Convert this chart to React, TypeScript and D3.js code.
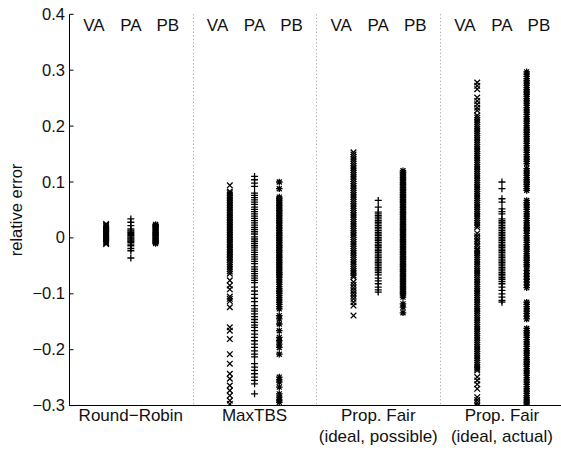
import React from "react";
import * as d3 from "d3";

// values in thousandths (relative error * 1000)
const groups = ["Round\u2212Robin", "MaxTBS", "Prop. Fair|(ideal, possible)", "Prop. Fair|(ideal, actual)"];
const seriesNames = ["VA", "PA", "PB"];
const yTicks = [-0.3, -0.2, -0.1, 0, 0.1, 0.2, 0.3, 0.4];

const VA1 = [25,23,21,19,17,15,13,11,9,7,5,3,1,-1,-3,-5,-7,-9,-11];
const PA1 = [34,28,22,16,14,12,10,8,6,4,2,0,-2,-4,-6,-8,-11,-14,-19,-23,-36];
const PB1 = [24,22,20,18,16,14,12,10,8,6,4,2,0,-2,-4,-6,-8,-10];

const VA2 = [94,83,80,77,74,71,68,65,62,59,56,53,50,47,44,41,38,35,32,29,26,23,20,17,14,11,8,5,2,-1,-4,-7,-10,-13,-16,-19,-22,-25,-28,-31,-34,-37,-40,-44,-48,-52,-56,-60,-64,-76,-85,-92,-105,-109,-113,-124,-160,-166,-181,-208,-225,-243,-252,-264,-273,-282,-291,-297];
const PA2 = [110,104,98,92,80,76,72,68,64,60,55,51,47,43,39,35,31,27,23,19,15,11,7,2,-2,-6,-10,-14,-18,-22,-26,-30,-34,-38,-42,-46,-52,-56,-60,-64,-68,-72,-76,-80,-88,-95,-101,-108,-114,-121,-127,-131,-136,-141,-146,-151,-156,-160,-166,-172,-178,-184,-190,-196,-202,-208,-213,-225,-231,-237,-243,-249,-255,-261,-279];
const PB2 = [100,88,73,70,67,64,61,58,55,52,49,46,43,40,37,34,31,28,25,22,19,16,13,10,7,4,1,-2,-5,-8,-11,-14,-17,-20,-23,-26,-29,-32,-35,-38,-41,-44,-47,-50,-53,-56,-59,-62,-65,-68,-71,-75,-79,-83,-87,-91,-95,-99,-103,-107,-111,-115,-119,-123,-127,-139,-145,-154,-166,-178,-184,-190,-196,-208,-249,-254,-258,-267,-279,-285,-290,-294];

const VA3 = [153,149,145,141,137,133,129,125,121,117,113,109,105,101,97,93,89,85,81,77,73,69,65,61,57,53,49,45,41,37,33,29,25,21,17,13,9,5,1,-3,-7,-11,-15,-19,-23,-27,-31,-35,-39,-43,-47,-51,-55,-59,-63,-67,-70,-79,-84,-89,-94,-99,-104,-109,-115,-121,-139];
const PA3 = [67,55,46,43,40,37,34,31,28,25,22,19,16,13,10,7,4,1,-2,-5,-8,-11,-14,-17,-20,-23,-26,-29,-32,-35,-38,-41,-44,-47,-50,-53,-56,-59,-62,-66,-72,-77,-82,-88,-93,-97];
const PB3 = [120,117,114,111,108,105,102,99,96,93,90,87,84,81,78,75,72,69,66,63,60,57,54,51,48,45,42,39,36,33,30,27,24,21,18,15,12,9,6,3,0,-3,-6,-9,-12,-15,-18,-21,-24,-27,-30,-33,-36,-39,-42,-45,-48,-51,-54,-57,-60,-63,-66,-69,-72,-75,-78,-81,-84,-87,-90,-93,-96,-99,-102,-106,-118,-124,-134];

const VA4 = [278,272,266,251,245,239,233,228,219,215,211,207,203,199,195,191,187,183,179,175,171,167,163,159,155,151,147,143,139,135,131,127,123,119,115,111,107,103,99,95,91,87,83,79,75,71,67,63,59,55,51,47,43,39,35,31,27,23,19,8,3,-2,-6,-11,-15,-20,-23,-27,-31,-35,-39,-43,-47,-51,-55,-59,-63,-67,-71,-75,-79,-83,-87,-91,-95,-99,-103,-107,-111,-115,-119,-123,-127,-131,-135,-139,-143,-147,-151,-155,-159,-163,-167,-171,-175,-179,-183,-187,-191,-195,-199,-203,-207,-211,-215,-219,-223,-227,-231,-234,-237,-249,-255,-262,-270,-285,-290,-295,-300];
const PA4 = [100,88,70,64,52,47,43,34,31,28,25,22,19,16,13,10,7,4,1,-2,-5,-8,-11,-14,-17,-20,-23,-26,-29,-32,-35,-38,-41,-44,-47,-50,-53,-56,-59,-62,-65,-68,-71,-74,-78,-82,-88,-94,-100,-106,-112,-115];
const PB4 = [297,293,289,285,281,277,273,269,265,261,257,253,249,245,241,237,233,229,225,221,217,213,209,205,201,197,193,189,185,181,177,173,169,165,161,157,153,149,145,141,137,133,124,120,116,112,108,104,100,96,92,88,85,67,63,59,55,51,47,43,39,35,31,27,23,19,16,13,8,4,0,-4,-8,-12,-16,-20,-24,-28,-32,-36,-40,-44,-48,-52,-58,-64,-69,-74,-79,-84,-89,-115,-119,-123,-127,-131,-135,-140,-145,-162,-166,-170,-174,-178,-182,-186,-190,-194,-198,-202,-206,-210,-214,-218,-222,-226,-230,-234,-238,-242,-246,-250,-254,-258,-262,-266,-270,-274,-278,-282,-286,-290,-294,-297];

const columns = [
  [VA1, PA1, PB1],
  [VA2, PA2, PB2],
  [VA3, PA3, PB3],
  [VA4, PA4, PB4],
];

const W = 561, H = 455;
const x = d3.scaleLinear().domain([-0.5, 19.5]).range([69, 563.8]);
const y = d3.scaleLinear().domain([-0.3, 0.4]).range([405.6, 14.3]);

const markerPaths = [
  "M-2.8,-2.8L2.8,2.8M-2.8,2.8L2.8,-2.8",
  "M-3.5,0H3.5M0,-3.5V3.5",
  "M-3.3,0H3.3M0,-3.3V3.3M-2.5,-2.5L2.5,2.5M-2.5,2.5L2.5,-2.5",
];

const FONT = "'Liberation Sans', Arial, Helvetica, sans-serif";

export default function App() {
  return (
    <svg width={W} height={H} style={{ position: "absolute", left: 0, top: 0, background: "#fff" }} fontFamily={FONT}>
      <defs>
        <clipPath id="plotclip">
          <rect x={69} y={y(0.4) - 0.5} width={W - 69} height={y(-0.3) - y(0.4) + 1} />
        </clipPath>
      </defs>
      <rect x={0} y={0} width={W} height={H} fill="#fff" />
      {/* separators */}
      {[4.5, 9.5, 14.5].map((p) => (
        <line key={p} x1={Math.round(x(p)) + 0.5} x2={Math.round(x(p)) + 0.5} y1={y(0.4)} y2={y(-0.3)} stroke="#999" strokeWidth={1} strokeDasharray="1 2.5" />
      ))}
      {/* points */}
      <g clipPath="url(#plotclip)">
        {columns.map((grp, gi) =>
          grp.map((vals, si) => {
            const pos = gi * 5 + si + 1;
            return (
              <g key={`${gi}-${si}`}>
                {vals.map((v, i) => (
                  <path key={i} d={markerPaths[si]} transform={`translate(${x(pos)},${y(v / 1000)})`} stroke="#000" strokeWidth={1.3} fill="none" />
                ))}
              </g>
            );
          })
        )}
      </g>
      {/* top labels */}
      {groups.map((g, gi) =>
        seriesNames.map((s, si) => (
          <text key={`${gi}-${s}`} x={x(gi * 5 + 2) + (si - 1) * 37} y={31} textAnchor="middle" fontSize={17} fill="#111">{s}</text>
        ))
      )}
      {/* bottom labels */}
      {groups.map((g, gi) =>
        g.split("|").map((line, li) => (
          <text key={`${gi}-${li}`} x={x(gi * 5 + 2)} y={421 + li * 21} textAnchor="middle" fontSize={17} fill="#111">{line}</text>
        ))
      )}
      {/* axes */}
      <line x1={69.5} x2={69.5} y1={y(0.4)} y2={y(-0.3)} stroke="#000" strokeWidth={1} />
      <line x1={69} x2={W} y1={Math.round(y(-0.3)) - 0.5} y2={Math.round(y(-0.3)) - 0.5} stroke="#000" strokeWidth={1} />
      {yTicks.map((t) => (
        <g key={t}>
          <line x1={69.5} x2={73.5} y1={y(t)} y2={y(t)} stroke="#000" strokeWidth={1} />
          <text x={65} y={y(t) + 5.5} textAnchor="end" fontSize={16.5} fill="#111">{t === 0 ? "0" : d3.format(".1f")(t).replace("-", "\u2212")}</text>
        </g>
      ))}
      <text transform={`translate(22,${(y(0.4) + y(-0.3)) / 2}) rotate(-90)`} textAnchor="middle" fontSize={16.5} fill="#111">relative error</text>
    </svg>
  );
}
